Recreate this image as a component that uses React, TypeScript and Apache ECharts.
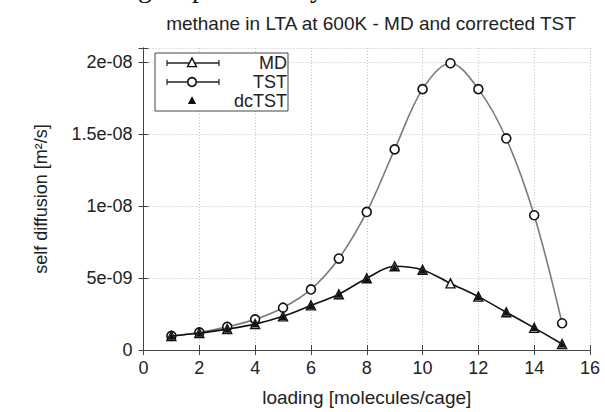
import React, { useEffect, useRef } from "react";
import * as echarts from "echarts";

const loading = [1, 2, 3, 4, 5, 6, 7, 8, 9, 10, 11, 12, 13, 14, 15];
const mdValues = [0.97e-9, 1.18e-9, 1.45e-9, 1.8e-9, 2.34e-9, 3.1e-9, 3.88e-9, 4.99e-9, 5.82e-9, 5.57e-9, 4.63e-9, 3.71e-9, 2.62e-9, 1.54e-9, 0.42e-9];
const tstValues = [0.98e-9, 1.22e-9, 1.61e-9, 2.13e-9, 2.94e-9, 4.21e-9, 6.36e-9, 9.6e-9, 13.95e-9, 18.14e-9, 19.94e-9, 18.14e-9, 14.71e-9, 9.37e-9, 1.86e-9];
const dcLoading = [1, 2, 3, 4, 5, 6, 7, 8, 9, 10, 12, 13, 14, 15];
const dcValues = [0.95e-9, 1.16e-9, 1.44e-9, 1.8e-9, 2.33e-9, 3.1e-9, 3.88e-9, 4.98e-9, 5.78e-9, 5.55e-9, 3.7e-9, 2.62e-9, 1.55e-9, 0.42e-9];
const legendNames = ["MD", "TST", "dcTST"];
const titleText = "methane in LTA at 600K - MD and corrected TST";
const xName = "loading [molecules/cage]";
const yName = "self diffusion [m\u00b2/s]";
const topGlyphs = ["g", "p", "y"];

const FONT = "Liberation Sans, Arial, Helvetica, sans-serif";
const TXT = "#222";
const FRAME = "#444";

function fmtY(v: number): string {
  if (v === 0) return "0";
  const r = v / 5e-9;
  if (Math.abs(r - Math.round(r)) > 1e-6) return "";
  let s = v.toExponential(1).replace(".0e", "e");
  s = s.replace(/e-(\d)$/, "e-0$1");
  return s;
}

export default function App() {
  const ref = useRef<HTMLDivElement>(null);
  useEffect(() => {
    if (!ref.current) return;
    const chart = echarts.init(ref.current, undefined, { renderer: "svg" });
    const split = { show: true, lineStyle: { color: "#c4c4c4", type: [1, 2] as any, width: 1 } };
    const tick = { show: true, inside: true, length: 5, lineStyle: { color: FRAME } };
    const line = { show: true, lineStyle: { color: FRAME, width: 1 } };
    const lx = 167, rx = 219, mx = 192;
    const rows = [63, 82, 101];
    const glyphX = [138, 192, 310];
    const bar = (x: number, y: number) => ({ type: "line", shape: { x1: x, y1: y - 3, x2: x, y2: y + 3 }, style: { stroke: "#222", lineWidth: 1.2 } });
    const tri = (cx: number, cy: number, s: number, fill: string) => ({
      type: "polygon",
      shape: { points: [[cx, cy - s * 0.55], [cx + s * 0.5, cy + s * 0.4], [cx - s * 0.5, cy + s * 0.4]] },
      style: { fill, stroke: "#111", lineWidth: 1.4 },
    });
    chart.setOption({
      animation: false,
      backgroundColor: "#fff",
      title: {
        text: titleText,
        left: 366,
        top: 9,
        textAlign: "center",
        textStyle: { fontFamily: FONT, fontSize: 19, fontWeight: "normal", color: TXT },
      },
      grid: { left: 143.5, right: 15, top: 48, bottom: 59 },
      xAxis: [
        {
          type: "value", min: 0, max: 16, interval: 2, position: "bottom",
          axisLine: line, axisTick: tick, splitLine: split,
          axisLabel: { fontFamily: FONT, fontSize: 18, color: TXT, margin: 9 },
          name: xName, nameLocation: "middle", nameGap: 38,
          nameTextStyle: { fontFamily: FONT, fontSize: 19, color: TXT },
        },
        {
          type: "value", min: 0, max: 16, interval: 2, position: "top",
          axisLine: line, axisTick: tick, splitLine: { show: false }, axisLabel: { show: false },
        },
      ],
      yAxis: [
        {
          type: "value", min: 0, max: 2.1e-8, interval: 5e-9, position: "left",
          axisLine: line, axisTick: tick, splitLine: split,
          axisLabel: { fontFamily: FONT, fontSize: 18, color: TXT, margin: 11, formatter: fmtY },
          name: yName, nameLocation: "middle", nameGap: 94,
          nameTextStyle: { fontFamily: FONT, fontSize: 18, color: TXT },
        },
        {
          type: "value", min: 0, max: 2.1e-8, interval: 5e-9, position: "right",
          axisLine: line, axisTick: tick, splitLine: { show: false }, axisLabel: { show: false },
        },
      ],
      series: [
        {
          name: "TST", type: "line", smooth: 0.35, xAxisIndex: 0, yAxisIndex: 0,
          data: loading.map((x, i) => [x, tstValues[i]]),
          lineStyle: { color: "#7a7a7a", width: 1.6 },
          symbol: "circle", symbolSize: 9,
          itemStyle: { color: "#fff", borderColor: "#111", borderWidth: 1.6 },
          z: 2,
        },
        {
          name: "MD", type: "line", smooth: 0.35, xAxisIndex: 0, yAxisIndex: 0,
          data: loading.map((x, i) => [x, mdValues[i]]),
          lineStyle: { color: "#111", width: 1.6 },
          symbol: "triangle", symbolSize: 9,
          itemStyle: { color: "#fff", borderColor: "#111", borderWidth: 1.4 },
          z: 3,
        },
        {
          name: "dcTST", type: "scatter", xAxisIndex: 0, yAxisIndex: 0,
          data: dcLoading.map((x, i) => [x, dcValues[i]]),
          symbol: "triangle", symbolSize: 7,
          itemStyle: { color: "#111", opacity: 1 },
          z: 4,
        },
      ],
      graphic: [
        ...topGlyphs.map((g, i) => ({
          type: "text", x: glyphX[i], y: 1,
          style: { text: g, font: "28px 'Liberation Serif', serif", fill: "#111", verticalAlign: "bottom" },
        })),
        { type: "rect", shape: { x: 155, y: 53, width: 133, height: 58 }, style: { fill: "#fff", stroke: FRAME, lineWidth: 1 }, z: 10 },
        { type: "line", shape: { x1: lx, y1: rows[0], x2: rx, y2: rows[0] }, style: { stroke: "#222", lineWidth: 1.3 }, z: 11 },
        { ...bar(lx, rows[0]), z: 11 },
        { ...bar(rx, rows[0]), z: 11 },
        { ...tri(mx, rows[0], 9, "#fff"), z: 12 },
        { type: "line", shape: { x1: lx, y1: rows[1], x2: rx, y2: rows[1] }, style: { stroke: "#222", lineWidth: 1.3 }, z: 11 },
        { ...bar(lx, rows[1]), z: 11 },
        { ...bar(rx, rows[1]), z: 11 },
        { type: "circle", shape: { cx: mx, cy: rows[1], r: 4.3 }, style: { fill: "#fff", stroke: "#111", lineWidth: 1.6 }, z: 12 },
        { ...tri(mx, rows[2], 6, "#111"), z: 12 },
        ...legendNames.map((n, i) => ({
          type: "text", x: 287, y: rows[i], z: 12,
          style: { text: n, font: `18px ${FONT}`, fill: TXT, align: "right", verticalAlign: "middle" },
        })),
      ],
    });
    return () => chart.dispose();
  }, []);
  return <div ref={ref} style={{ position: "fixed", left: 0, top: 0, width: 605, height: 412 }} />;
}
